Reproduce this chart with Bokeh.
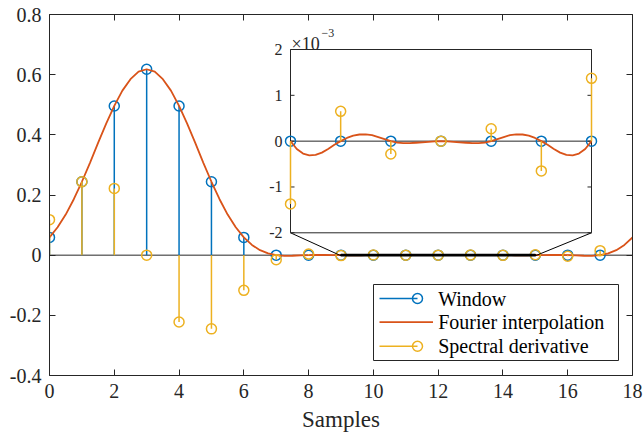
from bokeh.plotting import figure
from bokeh.models import Range1d, LinearAxis, FixedTicker
from bokeh.core.properties import value
from bokeh.embed import file_html
from bokeh.resources import INLINE

# ---------------- data ----------------
samples = [0, 1, 2, 3, 4, 5, 6, 7, 8, 9, 10, 11, 12, 13, 14, 15, 16, 17]
window = [0.059, 0.244, 0.496, 0.618, 0.496, 0.244, 0.059, 0.0, 0.0,
          0.0, 0.0, 0.0, 0.0, 0.0, 0.0, 0.0, 0.0, 0.0]
derivative = [0.118, 0.244, 0.222, 0.0, -0.222, -0.245, -0.117, -0.015, 0.0035,
              -0.00137, 0.00065, -0.00028, 0.0, 0.00027, -0.00065, 0.00137, -0.0035, 0.015]

interp_x = [0.0, 0.25, 0.5, 0.75, 1.0, 1.25, 1.5, 1.75, 2.0, 2.25, 2.5, 2.75,
            3.0, 3.25, 3.5, 3.75, 4.0, 4.25, 4.5, 4.75, 5.0, 5.25, 5.5, 5.75,
            6.0, 6.25, 6.5, 6.75, 7.0, 7.25, 7.5, 7.75, 8.0, 8.25, 8.5, 8.75,
            9.0, 9.125, 9.25, 9.375, 9.5, 9.625, 9.75, 9.875,
            10.0, 10.125, 10.25, 10.375, 10.5, 10.625, 10.75, 10.875,
            11.0, 11.125, 11.25, 11.375, 11.5, 11.625, 11.75, 11.875,
            12.0, 12.125, 12.25, 12.375, 12.5, 12.625, 12.75, 12.875,
            13.0, 13.125, 13.25, 13.375, 13.5, 13.625, 13.75, 13.875,
            14.0, 14.125, 14.25, 14.375, 14.5, 14.625, 14.75, 14.875,
            15.0, 15.25, 15.5, 15.75, 16.0, 16.25, 16.5, 16.75,
            17.0, 17.25, 17.5, 17.75, 18.0]
interp_y = [0.059, 0.093, 0.135, 0.186, 0.244, 0.307, 0.373, 0.437, 0.496, 0.547, 0.585, 0.610,
            0.618, 0.610, 0.585, 0.547, 0.496, 0.437, 0.373, 0.307, 0.244, 0.186, 0.135, 0.093,
            0.059, 0.034, 0.0166, 0.0057, 0.0, -0.0021, -0.0020, -0.0010, 0.0, 0.0006, 0.0007, 0.0004,
            0.0, -0.00017, -0.00027, -0.00031, -0.00030, -0.00025, -0.00017, -0.00008,
            0.0, 0.00007, 0.00012, 0.000145, 0.00015, 0.00013, 0.00009, 0.000045,
            0.0, -0.00003, -0.000045, -0.000045, -0.000035, -0.000025, -0.000015, -0.000007,
            0.0, -0.000007, -0.000015, -0.000025, -0.000035, -0.000045, -0.000045, -0.00003,
            0.0, 0.000045, 0.00009, 0.00013, 0.00015, 0.000145, 0.00012, 0.00007,
            0.0, -0.00008, -0.00017, -0.00025, -0.00030, -0.00031, -0.00027, -0.00017,
            0.0, 0.0004, 0.0007, 0.0006, 0.0, -0.0010, -0.0020, -0.0021,
            0.0, 0.0057, 0.0166, 0.034, 0.059]

x_ticks = [0, 2, 4, 6, 8, 10, 12, 14, 16, 18]
x_tick_labels = ["0", "2", "4", "6", "8", "10", "12", "14", "16", "18"]
y_ticks = [-0.4, -0.2, 0.0, 0.2, 0.4, 0.6, 0.8]
y_tick_labels = ["-0.4", "-0.2", "0", "0.2", "0.4", "0.6", "0.8"]

inset_x_lim = [9, 15]
inset_y_lim = [-0.002, 0.002]
inset_y_ticks = [-0.002, -0.001, 0.0, 0.001, 0.002]
inset_y_tick_labels = ["-2", "-1", "0", "1", "2"]

series_names = ["Window", "Fourier interpolation", "Spectral derivative"]
x_label = "Samples"

# ---------------- style ----------------
BLUE, RED, YELLOW, AX = "#0072BD", "#D95319", "#EDB120", "#262626"
FONT = "Liberation Serif"

FL, FR, FT, FB = 49, 632, 14, 375          # frame edges in pixels
X0, X1, Y0, Y1 = 0, 18, -0.4, 0.8


def px2x(px):
    return X0 + (px - FL) / (FR - FL) * (X1 - X0)


def px2y(py):
    return Y1 - (py - FT) / (FB - FT) * (Y1 - Y0)


p = figure(frame_width=FR - FL, frame_height=FB - FT,
           x_range=Range1d(X0, X1), y_range=Range1d(Y0, Y1),
           output_backend="svg", toolbar_location=None,
           min_border_left=FL, min_border_right=644 - FR,
           min_border_top=FT, min_border_bottom=437 - FB)
p.outline_line_color = None
p.xgrid.visible = False
p.ygrid.visible = False
p.background_fill_color = "white"
p.border_fill_color = "white"


def style_axis(ax, ticks, labels):
    ax.ticker = FixedTicker(ticks=ticks)
    ax.major_label_overrides = {t: l for t, l in zip(ticks, labels)}
    ax.axis_line_color = AX
    ax.axis_line_width = 1
    ax.major_tick_line_color = AX
    ax.major_tick_in = 6
    ax.major_tick_out = 0
    ax.minor_tick_line_color = None
    ax.major_label_text_font = FONT
    ax.major_label_text_font_size = "20px"
    ax.major_label_text_color = AX
    ax.major_label_standoff = 8


style_axis(p.xaxis[0], x_ticks, x_tick_labels)
style_axis(p.yaxis[0], y_ticks, y_tick_labels)
p.xaxis[0].axis_label = x_label
p.xaxis[0].axis_label_text_font = FONT
p.xaxis[0].axis_label_text_font_size = "23px"
p.xaxis[0].axis_label_text_font_style = "normal"
p.xaxis[0].axis_label_text_color = AX
p.xaxis[0].axis_label_standoff = 6

for loc, ticks in (("right", y_ticks), ("above", x_ticks)):
    ax = LinearAxis(ticker=FixedTicker(ticks=ticks),
                    major_label_overrides={t: "" for t in ticks},
                    major_label_text_font_size="0px", major_label_standoff=0,
                    axis_line_color=AX, major_tick_line_color=AX,
                    major_tick_in=6, major_tick_out=0, minor_tick_line_color=None)
    p.add_layout(ax, loc)

# ---------------- main plot ----------------
zeros = [0.0] * len(samples)
p.segment(x0=[X0], y0=[0], x1=[X1], y1=[0], line_color=AX, line_width=1)
p.segment(x0=samples, y0=zeros, x1=samples, y1=window, line_color=BLUE, line_width=1.5)
p.scatter(x=samples, y=window, marker="circle", size=10, fill_color=None,
          line_color=BLUE, line_width=1.5)
p.line(x=interp_x, y=interp_y, line_color=RED, line_width=1.8)
p.segment(x0=samples, y0=zeros, x1=samples, y1=derivative, line_color=YELLOW, line_width=1.5)
p.scatter(x=samples, y=derivative, marker="circle", size=10, fill_color=None,
          line_color=YELLOW, line_width=1.5)

# zoomed region marker in the main axes
zx0, zx1 = inset_x_lim
zy0, zy1 = inset_y_lim
p.quad(left=[zx0], right=[zx1], bottom=[zy0], top=[zy1], fill_color=None,
       line_color="black", line_width=1.5)

# ---------------- inset ----------------
IL, IR, IT, IB = px2x(290), px2x(591), px2y(49), px2y(232.3)   # inset box in main data units
sx = (IR - IL) / (zx1 - zx0)
sy = (IT - IB) / (zy1 - zy0)
p.extra_x_ranges = {"ix": Range1d(zx0 - (IL - X0) / sx, zx0 + (X1 - IL) / sx)}
p.extra_y_ranges = {"iy": Range1d(zy0 - (IB - Y0) / sy, zy0 + (Y1 - IB) / sy)}
IN = dict(x_range_name="ix", y_range_name="iy")

# connector lines
p.segment(x0=[IL, IR], y0=[IB, IB], x1=[zx0, zx1], y1=[zy0, zy0], line_color="black", line_width=1)

p.quad(left=[IL], right=[IR], bottom=[IB], top=[IT], fill_color="white", line_color=None)
p.quad(left=[zx0], right=[zx1], bottom=[zy0], top=[zy1], fill_color=None,
       line_color=AX, line_width=1, **IN)
# inset y ticks (inward, both sides)
tl = 0.08
p.segment(x0=[zx0] * len(inset_y_ticks), y0=inset_y_ticks, x1=[zx0 + tl] * len(inset_y_ticks),
          y1=inset_y_ticks, line_color=AX, line_width=1, **IN)
p.segment(x0=[zx1 - tl] * len(inset_y_ticks), y0=inset_y_ticks, x1=[zx1] * len(inset_y_ticks),
          y1=inset_y_ticks, line_color=AX, line_width=1, **IN)
p.text(x=[zx0] * len(inset_y_ticks), y=inset_y_ticks, text=inset_y_tick_labels,
       x_offset=-8, text_align="right", text_baseline="middle",
       text_font=value(FONT), text_font_size=value("16px"), text_color=AX, **IN)
p.text(x=[zx0], y=[zy1], text=["×10"], x_offset=1, y_offset=-6, text_align="left",
       text_baseline="alphabetic", text_font=value(FONT), text_font_size=value("18px"),
       text_color=AX, **IN)
p.text(x=[zx0], y=[zy1], text=["−3"], x_offset=31, y_offset=-17, text_align="left",
       text_baseline="alphabetic", text_font=value(FONT), text_font_size=value("12px"),
       text_color=AX, **IN)

p.segment(x0=[zx0], y0=[0], x1=[zx1], y1=[0], line_color=AX, line_width=1, **IN)

sel = [i for i, s in enumerate(samples) if zx0 <= s <= zx1]
ins_s = [samples[i] for i in sel]
ins_w = [window[i] for i in sel]
ins_d = [derivative[i] for i in sel]
ins_z = [0.0] * len(sel)
isel = [i for i, x in enumerate(interp_x) if zx0 <= x <= zx1]

p.segment(x0=ins_s, y0=ins_z, x1=ins_s, y1=ins_w, line_color=BLUE, line_width=1.5, **IN)
p.scatter(x=ins_s, y=ins_w, marker="circle", size=10, fill_color=None,
          line_color=BLUE, line_width=1.5, **IN)
p.line(x=[interp_x[i] for i in isel], y=[interp_y[i] for i in isel],
       line_color=RED, line_width=1.8, **IN)
p.segment(x0=ins_s, y0=ins_z, x1=ins_s, y1=ins_d, line_color=YELLOW, line_width=1.5, **IN)
p.scatter(x=ins_s, y=ins_d, marker="circle", size=10, fill_color=None,
          line_color=YELLOW, line_width=1.5, **IN)

# ---------------- legend ----------------
LL, LR, LT, LB = px2x(373), px2x(618), px2y(284), px2y(360)
p.quad(left=[LL], right=[LR], bottom=[LB], top=[LT], fill_color="white",
       line_color=AX, line_width=1)
rows = [px2y(298), px2y(321.7), px2y(345.7)]
g0, gm, g1 = px2x(379), px2x(417), px2x(432.5)
p.segment(x0=[g0], y0=[rows[0]], x1=[gm], y1=[rows[0]], line_color=BLUE, line_width=1.5)
p.scatter(x=[gm], y=[rows[0]], marker="circle", size=10, fill_color=None, line_color=BLUE, line_width=1.5)
p.segment(x0=[g0], y0=[rows[1]], x1=[g1], y1=[rows[1]], line_color=RED, line_width=1.8)
p.segment(x0=[g0], y0=[rows[2]], x1=[gm], y1=[rows[2]], line_color=YELLOW, line_width=1.5)
p.scatter(x=[gm], y=[rows[2]], marker="circle", size=10, fill_color=None, line_color=YELLOW, line_width=1.5)
p.text(x=[px2x(437.7)] * 3, y=rows, text=series_names, text_align="left", text_baseline="middle",
       text_font=value(FONT), text_font_size=value("20px"), text_color="black")

open("out.html", "w").write(file_html(p, INLINE))
